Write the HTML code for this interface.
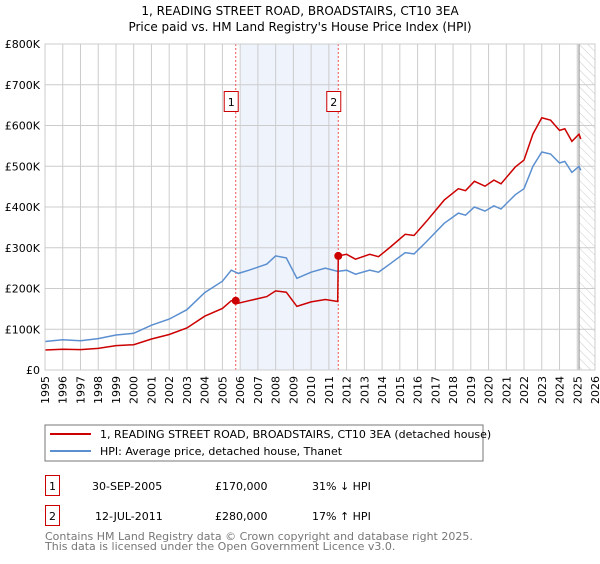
<!DOCTYPE html>
<html><head><meta charset="utf-8"><style>
body{margin:0;background:#fff;font-family:"DejaVu Sans","Liberation Sans",sans-serif;}
svg text{font-family:"DejaVu Sans","Liberation Sans",sans-serif;}
</style></head><body>
<svg id="chart" width="600" height="560" viewBox="0 0 600 560">
<defs><pattern id="hatch" width="6" height="6" patternUnits="userSpaceOnUse" patternTransform="rotate(-45)"><line x1="0" y1="0" x2="0" y2="6" stroke="#ccc" stroke-width="1"/></pattern></defs>
<text x="300" y="15" text-anchor="middle" font-size="12">1, READING STREET ROAD, BROADSTAIRS, CT10 3EA</text>
<text x="300" y="31" text-anchor="middle" font-size="12">Price paid vs. HM Land Registry's House Price Index (HPI)</text>
<g id="plot"></g>
<rect x="45" y="425" width="438" height="36" fill="none" stroke="#777"/>
<line x1="50" y1="434" x2="91" y2="434" stroke="#cc0000" stroke-width="2"/>
<text x="100" y="438" font-size="11">1, READING STREET ROAD, BROADSTAIRS, CT10 3EA (detached house)</text>
<line x1="50" y1="451" x2="91" y2="451" stroke="#5b8fd0" stroke-width="2"/>
<text x="100" y="455" font-size="11">HPI: Average price, detached house, Thanet</text>
<g>
<rect x="45.5" y="475.5" width="14" height="20" fill="none" stroke="#cc0000"/>
<text x="52.5" y="490" text-anchor="middle" font-size="11">1</text>
<text x="92" y="490" font-size="11">30-SEP-2005</text>
<text x="215" y="490" font-size="11">£170,000</text>
<text x="312" y="490" font-size="11">31% ↓ HPI</text></g>
<g>
<rect x="45.5" y="505.5" width="14" height="20" fill="none" stroke="#cc0000"/>
<text x="52.5" y="520" text-anchor="middle" font-size="11">2</text>
<text x="95" y="520" font-size="11">12-JUL-2011</text>
<text x="215" y="520" font-size="11">£280,000</text>
<text x="312" y="520" font-size="11">17% ↑ HPI</text></g>
<text x="45" y="540" font-size="11" fill="#777">Contains HM Land Registry data © Crown copyright and database right 2025.</text>
<text x="45" y="550" font-size="11" fill="#777">This data is licensed under the Open Government Licence v3.0.</text>
</svg>
<script>
const hpiYears=[1995,1996,1997,1998,1999,2000,2001,2002,2003,2004,2005,2005.5,2005.9,2006.5,2007.5,2008,2008.6,2009.2,2010,2010.8,2011.5,2012,2012.5,2013.3,2013.8,2014.5,2015.3,2015.8,2016.5,2017.5,2018.3,2018.7,2019.2,2019.8,2020.3,2020.7,2021.5,2022,2022.5,2023,2023.5,2024,2024.3,2024.7,2025.1,2025.2];
const hpiValues=[70,74,72,77,86,90,110,125,148,190,218,245,237,245,260,280,275,225,240,250,242,245,235,245,240,262,288,285,315,360,385,380,400,390,403,395,430,445,500,535,530,508,512,485,500,490];
const priceYears=[1995,1996,1997,1998,1999,2000,2001,2002,2003,2004,2005,2005.5,2005.75,2005.9,2006.5,2007.5,2008,2008.6,2009.2,2010,2010.8,2011.5,2011.53,2012,2012.5,2013.3,2013.8,2014.5,2015.3,2015.8,2016.5,2017.5,2018.3,2018.7,2019.2,2019.8,2020.3,2020.7,2021.5,2022,2022.5,2023,2023.5,2024,2024.3,2024.7,2025.1,2025.2];
const priceValues=[49,51,50,53,60,62,76,87,103,132,151,170,170,164,170,180,194,191,156,167,173,168,280,284,272,284,278,303,333,330,365,417,445,440,463,451,466,457,498,515,579,619,613,588,592,561,579,567];
const saleYears=[2005.75,2011.53];
const saleValues=[170,280];
const saleLabels=["1","2"];
const yTicks=[0,100,200,300,400,500,600,700,800];
const yTickLabels=["£0","£100K","£200K","£300K","£400K","£500K","£600K","£700K","£800K"];
const xTicks=[1995,1996,1997,1998,1999,2000,2001,2002,2003,2004,2005,2006,2007,2008,2009,2010,2011,2012,2013,2014,2015,2016,2017,2018,2019,2020,2021,2022,2023,2024,2025,2026];

const X0=45,X1=595,Y0=370,Y1=44;
const xs=y=>X0+(y-1995)/(2026-1995)*(X1-X0);
const ys=v=>Y0-v/800*(Y0-Y1);
const NS="http://www.w3.org/2000/svg";
const g=document.getElementById('plot');
function mk(t,a,p){const e=document.createElementNS(NS,t);for(const k in a)e.setAttribute(k,a[k]);(p||g).appendChild(e);return e;}
let e;
e=mk('rect',{x:xs(2006),y:Y1,width:xs(saleYears[1])-xs(2006),height:Y0-Y1,fill:'#eef3fc'});


e=mk('rect',{x:xs(2025.1),y:Y1,width:X1-xs(2025.1),height:Y0-Y1,fill:'url(#hatch)'});


yTicks.forEach((v,i)=>{
 e=mk('line',{x1:X0,x2:X1,y1:ys(v),y2:ys(v),stroke:'#ccc'});
 
 
 e=mk('text',{x:40,y:ys(v)+4,'text-anchor':'end','font-size':11});
 e.textContent=yTickLabels[i];
 
 
});
xTicks.forEach(y=>{
 e=mk('line',{x1:xs(y),x2:xs(y),y1:Y1,y2:Y0,stroke:'#ccc'});
 
 
 e=mk('text',{x:0,y:0,'font-size':11,'text-anchor':'end',transform:`translate(${xs(y)+4},${Y0+6}) rotate(-90)`});
 e.textContent=y;
 
 
});
e=mk('line',{x1:xs(2025.1),x2:xs(2025.1),y1:Y1,y2:Y0,stroke:'#888'});


saleYears.forEach((y,i)=>{
 e=mk('line',{x1:xs(y),x2:xs(y),y1:Y1,y2:Y0,stroke:'#e55',"stroke-dasharray":"2,2"});
 
 
 e=mk('rect',{x:xs(y)-11.5,y:91.5,width:14,height:20,fill:'#fff',stroke:'#cc0000'});
 
 
 e=mk('text',{x:xs(y)-4.5,y:106,'text-anchor':'middle','font-size':11});
 e.textContent=saleLabels[i];
 
 
});
const pts=(xa,va)=>xa.map((y,i)=>xs(y).toFixed(1)+','+ys(va[i]).toFixed(1)).join(' ');
e=mk('polyline',{points:pts(hpiYears,hpiValues),fill:'none',stroke:'#5b8fd0','stroke-width':1.5});


e=mk('polyline',{points:pts(priceYears,priceValues),fill:'none',stroke:'#cc0000','stroke-width':1.5});


saleYears.forEach((y,i)=>{
 e=mk('circle',{cx:xs(y),cy:ys(saleValues[i]),r:4,fill:'#cc0000'});
 
 
});
e=mk('rect',{x:X0,y:Y1,width:X1-X0,height:Y0-Y1,fill:'none',stroke:'#ccc'});


</script>
</body></html>
